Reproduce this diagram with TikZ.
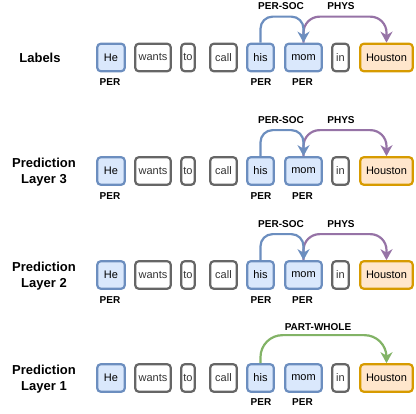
\documentclass[tikz,border=0pt]{standalone}
\usepackage{fontspec}
\setmainfont{Liberation Sans}
\usetikzlibrary{arrows.meta}
\definecolor{entblue}{HTML}{6C8EBF}
\definecolor{entbluefill}{HTML}{DAE8FC}
\definecolor{tokgray}{HTML}{666666}
\definecolor{textgray}{HTML}{333333}
\definecolor{locorange}{HTML}{D79B00}
\definecolor{locfill}{HTML}{FFE6CC}
\definecolor{physpurple}{HTML}{9673A6}
\definecolor{relgreen}{HTML}{82B366}
\begin{document}
\begin{tikzpicture}[x=1pt,y=-1pt,
  tok/.style={draw, rounded corners=3.5pt, line width=2.2pt, minimum height=27.5pt,
    inner sep=0pt, font=\fontsize{11}{13}\selectfont},
  pertok/.style={tok, draw=entblue, fill=entbluefill, text=black},
  plaintok/.style={tok, draw=tokgray, fill=white, text=textgray},
  loctok/.style={tok, draw=locorange, fill=locfill, text=black},
  enttag/.style={font=\fontsize{10}{12}\selectfont\bfseries, inner sep=0pt},
  rellabel/.style={font=\fontsize{10}{12}\selectfont\bfseries, inner sep=0pt},
  rowtitle/.style={font=\fontsize{13}{16}\selectfont\bfseries, align=center, inner sep=0pt},
  relarc/.style={line width=2.2pt, -{Stealth[length=11pt,width=12pt,inset=3.5pt]}},
]
\useasboundingbox (0,0) rectangle (416,414);

% one sentence per row
\foreach \r/\y in {a/57.5, b/171, c/275, d/378} {
  \node[pertok,   minimum width=27.5pt] (\r-he)    at (111,\y)   {He};
  \node[plaintok, minimum width=35.5pt] (\r-wants) at (153,\y)   {wants};
  \node[plaintok, minimum width=13.5pt] (\r-to)    at (188,\y)   {to};
  \node[plaintok, minimum width=26.5pt] (\r-call)  at (223.5,\y) {call};
  \node[pertok,   minimum width=26.5pt] (\r-his)   at (260.5,\y) {his};
  \node[pertok,   minimum width=36.5pt] (\r-mom)   at (303.5,\y) {mom};
  \node[plaintok, minimum width=16.5pt] (\r-in)    at (340.5,\y) {in};
  \node[loctok,   minimum width=52.5pt] (\r-hou)   at (386.5,\y) {Houston};
}

% entity tags
\foreach \r/\y in {a/57.5, b/171, c/275} {
  \node[enttag] (\r-tag1) at (110,\y+25)   {PER};
  \node[enttag] (\r-tag2) at (261,\y+25)   {PER};
  \node[enttag] (\r-tag3) at (302.5,\y+25) {PER};
}
\node[enttag] (d-tag2) at (261,402)   {PER};
\node[enttag] (d-tag3) at (302.5,402) {PER};

% row titles
\node[rowtitle] (t-a) at (40,57.5) {Labels};
\node[rowtitle] (t-b) at (44,172)  {Prediction\\Layer 3};
\node[rowtitle] (t-c) at (44,276)  {Prediction\\Layer 2};
\node[rowtitle] (t-d) at (44,379)  {Prediction\\Layer 1};

% relations: PER-SOC and PHYS
\foreach \r/\y in {a/57.5, b/171, c/275} {
  \draw[relarc, physpurple, rounded corners=16pt]
    (\r-mom.north) -- ++(0,-26) -| (\r-hou.north);
  \draw[relarc, entblue, rounded corners=12pt]
    (\r-his.north) -- ++(0,-26) -| (\r-mom.north);
  \node[rellabel] (\r-persoc) at (281,\y-51) {PER-SOC};
  \node[rellabel] (\r-phys)   at (341,\y-51) {PHYS};
}

% relation: PART-WHOLE
\draw[relarc, relgreen, rounded corners=22pt]
  (d-his.north) -- ++(0,-28) -| (d-hou.north);
\node[rellabel] (d-pw) at (318,327) {PART-WHOLE};
\end{tikzpicture}
\end{document}
